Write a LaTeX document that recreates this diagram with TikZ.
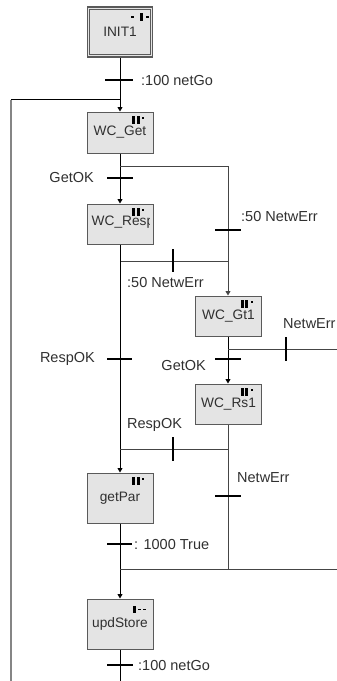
\documentclass[tikz,border=0pt]{standalone}
\usepackage{fontspec}
\setmainfont{Liberation Sans}
\usetikzlibrary{arrows.meta}
\definecolor{boxfill}{HTML}{E4E4E4}
\definecolor{boxline}{HTML}{5A5A5A}
\definecolor{txt}{HTML}{303030}
\definecolor{branch}{HTML}{454545}
\definecolor{loopgray}{HTML}{858585}
\newcommand\mktagA{\fill[black] (-22.5,10) rectangle (-19.5,11.5); \fill[black] (-13.5,7) rectangle (-10,14.5); \fill[black] (-7,10) rectangle (-4,11.5);}
\newcommand\mktagB{\fill[black] (-21.5,4.5) rectangle (-18.5,12); \fill[black] (-17,4.5) rectangle (-14,12); \fill[black] (-11.5,5.5) rectangle (-9.3,7);}
\newcommand\mktagC{\fill[black] (-20.5,7.5) rectangle (-17.5,14.5); \fill[black] (-15.7,10.3) rectangle (-12.8,11.8); \fill[black] (-10.7,10.3) rectangle (-7.8,11.8);}
\begin{document}
\begin{tikzpicture}[x=1pt,y=-1pt,
  stepbox/.style={draw=boxline, fill=boxfill, line width=1pt, minimum width=66pt, minimum height=41pt, inner sep=0pt, font=\fontsize{13.7}{15}\selectfont, text=txt},
  boxtext/.style={font=\fontsize{13.7}{15}\selectfont, text=txt, inner sep=0pt},
  flow/.style={line width=0.9pt, black},
  brl/.style={line width=0.9pt, branch},
  arr/.style={flow, -{Triangle[width=5pt,length=4.5pt]}},
  barr/.style={brl, -{Triangle[width=5pt,length=4.5pt]}},
  hbar/.style={fill=black, inner sep=0pt, minimum width=27pt, minimum height=2pt, draw=none},
  vbar/.style={fill=black, inner sep=0pt, minimum width=2pt, minimum height=24pt, draw=none},
  lbl/.style={font=\fontsize{14.5}{16}\selectfont, text=txt, inner sep=0pt},
  loopl/.style={line width=2.2pt, loopgray}
]
\useasboundingbox (0,0) rectangle (337,681);

% steps
\node[stepbox, minimum width=65pt, minimum height=50pt, line width=1.3pt] (init) at (120,32) {INIT1};
\draw[boxline, line width=0.8pt] ([shift={(3,3)}]init.north west) rectangle ([shift={(-3,-3)}]init.south east);
\node[stepbox] (wcget) at (120,132.5) {WC\_Get};
\node[stepbox, minimum height=40pt] (wcresp) at (120,224) {};
\begin{scope}
  \clip ([shift={(1,1)}]wcresp.north west) rectangle ([shift={(-4,-1)}]wcresp.south east);
  \node[boxtext, anchor=west] at ([shift={(5,-2)}]wcresp.west) {WC\_Resp};
\end{scope}
\node[stepbox, minimum height=40pt] (wcgt) at (228.5,316) {WC\_Gt1};
\node[stepbox, minimum height=40pt] (wcrs) at (228.5,404) {WC\_Rs1};
\node[stepbox, minimum height=50pt] (getpar) at (120,498) {getPar};
\node[stepbox, minimum height=50pt] (upd) at (120,624) {updStore};

% tags
\begin{scope}[shift={(init.north east)}]\mktagA\end{scope}
\begin{scope}[shift={(wcget.north east)}]\mktagB\end{scope}
\begin{scope}[shift={(wcresp.north east)}]\mktagB\end{scope}
\begin{scope}[shift={(wcgt.north east)}]\mktagB\end{scope}
\begin{scope}[shift={(wcrs.north east)}]\mktagB\end{scope}
\begin{scope}[shift={(getpar.north east)}]\mktagB\end{scope}
\begin{scope}[shift={(upd.north east)}]\mktagC\end{scope}

% junction coordinates
\coordinate (j0) at (120,99);
\coordinate (lp0) at (11,99);
\coordinate (lpend) at (11,681);
\coordinate (j1) at (120,166);
\coordinate (r1) at (228,166);
\coordinate (j2) at (120,261);
\coordinate (r2) at (228,261);
\coordinate (r3) at (228,349);
\coordinate (e3) at (337,349);
\coordinate (r4) at (228,449);
\coordinate (j4) at (120,449);
\coordinate (r5) at (228,569);
\coordinate (j6) at (120,569);
\coordinate (e6) at (337,569);
\coordinate (bend) at (120,681);

% connectors
\draw[loopl] (lpend) -- ([yshift=-1.1]lp0);
\draw[flow] (lp0) -- (j0);
\draw[flow] (init.south) -- (j0);
\draw[arr] (j0) -- (wcget.north);
\draw[arr] (wcget.south) -- (wcresp.north);
\draw[brl] (j1) -- (r1);
\draw[barr] (r1) -- (r1 |- wcgt.north);
\draw[brl] (j2) -- (r2);
\draw[arr] (wcresp.south) -- (getpar.north);
\draw[arr] (wcgt.south -| r1) -- (r1 |- wcrs.north);
\draw[brl] (r3) -- (e3);
\draw[brl] (wcrs.south -| r1) -- (r5);
\draw[brl] (r4) -- (j4);
\draw[flow] (getpar.south) -- (j6);
\draw[arr] (j6) -- (upd.north);
\draw[brl] (j6) -- (e6);
\draw[flow] (upd.south) -- (bend);

% transitions
\node[hbar, minimum width=28pt] (t1) at (119,80) {};
\node[hbar, minimum width=26pt] (t2) at (120,178) {};
\node[hbar, minimum width=26pt] (t3) at (228,230) {};
\node[vbar, minimum height=23pt] (t4) at (173,260.5) {};
\node[vbar] (t5) at (286,349) {};
\node[hbar, minimum width=26pt] (t6) at (228,359) {};
\node[hbar, minimum width=25pt] (t7) at (119.5,359) {};
\node[vbar] (t8) at (173,449) {};
\node[hbar, minimum width=26pt] (t9) at (228,496) {};
\node[hbar, minimum width=25pt] (t10) at (119.5,544) {};
\node[hbar, minimum width=26pt] (t11) at (120,665) {};

% labels
\node[lbl, anchor=west] (l1) at (141,81) {:100 netGo};
\node[lbl, anchor=east] (l2) at (94,178) {GetOK};
\node[lbl, anchor=west] (l3) at (241,217) {:50 NetwErr};
\node[lbl, anchor=west] (l4) at (127,283) {:50 NetwErr};
\node[lbl, anchor=west] (l5) at (283,324) {NetwErr};
\node[lbl, anchor=east] (l6) at (95,359) {RespOK};
\node[lbl, anchor=east] (l7) at (206,366) {GetOK};
\node[lbl, anchor=west] (l8) at (127,425) {RespOK};
\node[lbl, anchor=west] (l9) at (237,478) {NetwErr};
\node[lbl, anchor=west] (l10) at (134,545) {: 1000 True};
\node[lbl, anchor=west] (l11) at (138,666) {:100 netGo};
\end{tikzpicture}
\end{document}
